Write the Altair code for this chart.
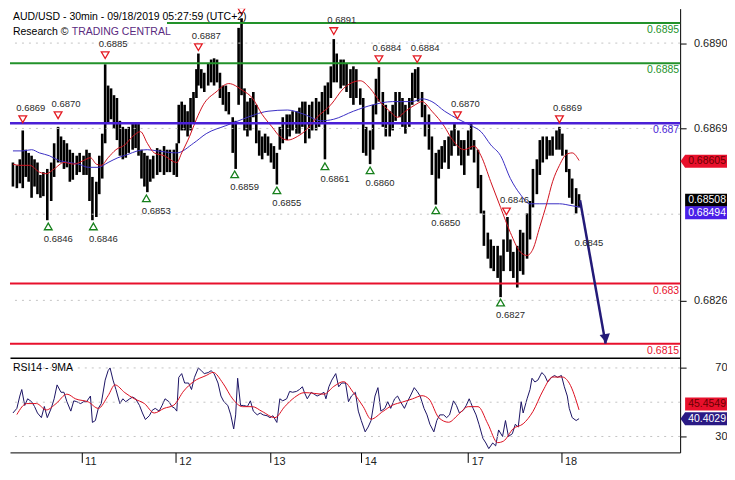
import altair as alt
import pandas as pd

FONT = "Liberation Sans"
TITLE = "AUD/USD - 30min - 09/18/2019 05:27:59 (UTC+2)"
SOURCE_A = "Research ©"
SOURCE_B = "TRADING CENTRAL"
RSI_TITLE = "RSI14 - 9MA"

# time unit: 30-minute bars since the start of the window
DAY_T = [36.5, 84.5, 132.5, 179, 233.5, 281]
DAY_LABELS = ["11", "12", "13", "14", "17", "18"]
X_DOMAIN = [0, 341.5]
PRICE_DOMAIN = [0.68115, 0.68986]
RSI_DOMAIN = [20.7, 76]
PRICE_TICKS = [0.6890, 0.68687, 0.68258]
PRICE_GRID = [0.6890, 0.68687, 0.68473, 0.68258]
RSI_TICKS = [70, 30]
RSI_GRID = [70, 50, 30]

BAR_T = [
    1.5, 3.5, 5, 6.5, 8, 9.5, 11, 12.5, 14, 15.5,
    17, 19, 21, 22.5, 24.5, 26, 27.5, 29, 30.5, 32,
    34, 35.5, 37.5, 39, 40.5, 42, 44, 45.5, 47, 48.5,
    50, 51.5, 53, 54.5, 56, 57.5, 59, 60.5, 62.5, 64,
    65.5, 67, 68.5, 70, 71.5, 73, 75, 76.5, 78.5, 80,
    81.5, 83.5, 85, 86, 87.5, 89, 90.5, 92, 93.5, 95,
    96, 97.5, 99, 101, 102.5, 104, 105.5, 107, 108.5, 110,
    111.5, 113.5, 115, 116.5, 118, 119.5, 121, 122.5, 124, 125.5,
    127, 128.5, 130, 131.5, 133, 134.5, 136, 137.5, 139, 141,
    142.5, 144, 146, 147.5, 149, 150.5, 152.5, 154, 156, 157.5,
    159, 160.5, 162, 163.5, 165, 166.5, 168.5, 170, 171.5, 173.5,
    175, 176.5, 178.5, 180, 181.5, 183.5, 185, 186.5, 188, 190,
    191.5, 193.5, 195, 196.5, 198.5, 200, 201.5, 203.5, 205, 206.5,
    208, 210, 211.5, 213.5, 215, 217, 218.5, 220, 221.5, 223.5,
    225, 226.5, 228.5, 230, 231.5, 233.5, 235, 236.5, 238.5, 240,
    241.5, 243.5, 245, 246.5, 248.5, 250, 251.5, 253.5, 255, 256.5,
    258.5, 260, 261.5, 263.5, 265, 266.5, 268.5, 270, 271.5, 273.5,
    275, 276.5, 278.5, 280, 281.5, 283.5, 285, 286.5, 288.5, 290,
]
BAR_HIGH = [
    .68602, .68595, .68610, .68682, .68634, .68626, .68619, .68610, .68602, .68571,
    .68578, .68586, .68602, .68650, .68691, .68667, .68658, .68650, .68634, .68626,
    .68619, .68626, .68619, .68634, .68626, .68566, .68554, .68619, .68674, .68847,
    .68794, .68787, .68770, .68763, .68706, .68691, .68686, .68691, .68698, .68703,
    .68698, .68634, .68626, .68619, .68610, .68619, .68638, .68634, .68643, .68634,
    .68634, .68634, .68650, .68746, .68754, .68746, .68730, .68763, .68778, .68835,
    .68874, .68835, .68826, .68850, .68859, .68862, .68859, .68826, .68794, .68794,
    .68778, .68715, .68706, .68938, .68962, .68787, .68754, .68763, .68778, .68746,
    .68682, .68667, .68674, .68667, .68650, .68643, .68626, .68691, .68715, .68722,
    .68722, .68730, .68730, .68739, .68754, .68754, .68746, .68754, .68763, .68754,
    .68778, .68794, .68802, .68842, .68910, .68874, .68859, .68859, .68850, .68835,
    .68842, .68835, .68787, .68763, .68691, .68682, .68746, .68811, .68840, .68778,
    .68746, .68730, .68746, .68778, .68778, .68763, .68746, .68763, .68826, .68835,
    .68840, .68778, .68746, .68722, .68667, .68626, .68634, .68643, .68658, .68667,
    .68682, .68698, .68682, .68658, .68658, .68682, .68698, .68658, .68634, .68571,
    .68482, .68427, .68410, .68394, .68394, .68370, .68410, .68466, .68410, .68379,
    .68394, .68434, .68427, .68475, .68506, .68586, .68610, .68658, .68667, .68667,
    .68658, .68667, .68682, .68691, .68674, .68634, .68586, .68562, .68538, .68523,
]
BAR_LOW = [
    .68542, .68538, .68550, .68538, .68566, .68554, .68514, .68542, .68523, .68514,
    .68518, .68458, .68506, .68566, .68602, .68602, .68586, .68590, .68554, .68559,
    .68571, .68578, .68571, .68571, .68506, .68458, .68466, .68523, .68562, .68650,
    .68698, .68710, .68686, .68658, .68619, .68610, .68614, .68626, .68634, .68638,
    .68619, .68562, .68542, .68528, .68554, .68562, .68571, .68578, .68571, .68578,
    .68578, .68571, .68566, .68650, .68682, .68682, .68667, .68682, .68698, .68763,
    .68794, .68787, .68778, .68794, .68802, .68794, .68802, .68763, .68746, .68730,
    .68722, .68626, .68586, .68746, .68770, .68682, .68667, .68682, .68715, .68650,
    .68619, .68610, .68626, .68619, .68602, .68586, .68547, .68634, .68650, .68658,
    .68667, .68682, .68674, .68674, .68691, .68650, .68662, .68682, .68682, .68691,
    .68698, .68610, .68722, .68763, .68802, .68802, .68787, .68794, .68778, .68763,
    .68746, .68763, .68746, .68626, .68619, .68598, .68634, .68722, .68754, .68691,
    .68667, .68667, .68682, .68706, .68715, .68691, .68674, .68691, .68746, .68763,
    .68754, .68715, .68667, .68634, .68571, .68497, .68562, .68586, .68602, .68586,
    .68619, .68643, .68619, .68595, .68571, .68619, .68634, .68602, .68538, .68475,
    .68394, .68362, .68338, .68331, .68314, .68266, .68331, .68379, .68331, .68314,
    .68290, .68331, .68322, .68362, .68410, .68490, .68523, .68571, .68602, .68610,
    .68619, .68619, .68634, .68634, .68619, .68578, .68514, .68499, .68475, .68490,
]

MA_FAST_T = [
    1.5, 5, 10, 15, 18.5, 22.5, 27.5, 32.5, 37.5, 41,
    44, 46.5, 50, 54, 58.5, 62.5, 66.5, 70, 73.5, 78.5,
    85, 87.5, 91.5, 95, 98.5, 105, 111.5, 118.5, 123.5, 128.5,
    133.5, 137.5, 141.5, 146.5, 150, 156.5, 163.5, 170, 178.5, 183.5,
    188.5, 193.5, 197.5, 201.5, 206.5, 210, 215, 221.5, 225, 231.5,
    236.5, 240, 245, 250, 255, 260, 263.5, 266.5, 270, 273.5,
    276.5, 280, 283.5, 286.5, 290,
]
MA_FAST_P = [
    .68598, .68595, .68595, .68578, .68574, .68586, .68602, .68598, .68607, .68614,
    .68598, .68595, .68614, .68634, .68646, .68667, .68679, .68650, .68626, .68619,
    .68602, .68626, .68667, .68710, .68746, .68778, .68799, .68782, .68763, .68722,
    .68691, .68667, .68658, .68667, .68679, .68715, .68746, .68787, .68806, .68787,
    .68754, .68730, .68715, .68730, .68746, .68754, .68730, .68691, .68662, .68634,
    .68643, .68619, .68554, .68490, .68427, .68379, .68370, .68386, .68442, .68499,
    .68554, .68595, .68622, .68626, .68607,
]
MA_SLOW_T = [
    1.5, 6.5, 11, 15, 20, 25, 30, 35, 40, 45,
    50, 55, 60, 65, 70, 75, 85, 93.5, 100, 110,
    118.5, 125, 131.5, 141.5, 150, 158.5, 165, 175, 185, 195,
    205, 210, 215, 221.5, 228.5, 235, 240, 245, 250, 255,
    260, 265, 270, 280, 286.5, 291.5,
]
MA_SLOW_P = [
    .68631, .68631, .68634, .68626, .68619, .68607, .68602, .68598, .68590, .68590,
    .68602, .68614, .68622, .68631, .68634, .68631, .68626, .68650, .68674, .68694,
    .68710, .68722, .68730, .68733, .68722, .68706, .68710, .68730, .68746, .68754,
    .68754, .68761, .68754, .68730, .68710, .68694, .68679, .68646, .68619, .68562,
    .68523, .68499, .68499, .68499, .68494, .68490,
]

RSI_T = [
    1.5, 3.5, 5, 6, 7.5, 9, 11, 12.5, 14, 16,
    17.5, 19, 21, 22.5, 24, 26, 27.5, 29, 31, 32.5,
    34, 36, 37.5, 39, 41, 42, 43.5, 45, 46.5, 48.5,
    50, 51, 52.5, 54, 56, 57.5, 59, 61, 62.5, 64,
    66, 67.5, 69, 71, 72.5, 74, 76, 77.5, 79, 81,
    82.5, 84, 85, 86, 87.5, 89, 91, 92.5, 94, 96,
    97.5, 99, 101, 102.5, 104, 106, 107.5, 109, 111, 112.5,
    114, 115, 116, 117.5, 119, 121, 122.5, 124, 126, 127.5,
    129, 131, 132.5, 134, 136, 137.5, 139, 141, 142.5, 144,
    146, 147.5, 149, 150, 151.5, 153.5, 155, 156.5, 158.5, 160,
    161, 162.5, 164, 166, 167.5, 169, 171, 172.5, 174, 176,
    177.5, 179, 181, 182.5, 184, 186, 187.5, 189, 191, 192.5,
    194, 196, 197.5, 199, 201, 202.5, 204, 206, 207.5, 209,
    211, 212.5, 214, 216, 217.5, 219, 221, 222.5, 224, 226,
    227.5, 229, 231, 232.5, 234, 236, 237.5, 239, 241, 242.5,
    244, 246, 247.5, 249, 251, 252.5, 254, 256, 257.5, 259,
    260.5, 261.5, 263.5, 265, 266, 267.5, 269, 271, 272.5, 274,
    276, 277.5, 279, 281, 282.5, 284, 285, 286.5, 288.5, 290,
]
RSI_V = [
    43.7, 46.4, 53.6, 57.4, 48.1, 52, 50.3, 47.5, 43.7, 41,
    47.5, 41, 46.4, 52, 60.1, 55.8, 55.8, 50.3, 44.8, 50.8,
    50.3, 49.2, 50.3, 50.3, 53.6, 38.2, 39.3, 46.4, 49.2, 62.9,
    68.4, 70, 62.9, 57.4, 49.2, 52, 50.3, 52, 53, 52,
    48.1, 43.7, 39.9, 42.1, 45.3, 46.4, 44.8, 48.1, 52, 50.3,
    47.5, 46.4, 44.8, 64.5, 66.7, 61.2, 61.2, 57.4, 64.5, 70,
    68.4, 66.7, 67.3, 68.4, 66.7, 61.2, 53.6, 50.3, 48.1, 42.6,
    34.4, 42.6, 64, 48.1, 48.1, 47.5, 50.8, 44.8, 42.6, 43.7,
    42.6, 42.1, 41, 42.1, 38.2, 52, 50.8, 52, 56.3, 55.8,
    56.3, 57.4, 59, 55.8, 52, 55.8, 54.7, 53.6, 54.7, 55.8,
    52, 59, 62.9, 66.7, 59, 61.2, 61.2, 50.3, 53.6, 55.8,
    44.8, 39.3, 32.7, 35.5, 39.3, 53.6, 58.5, 44.8, 46.4, 50.3,
    46.4, 52, 53.6, 50.3, 46.4, 50.3, 53.6, 58.5, 56.3, 53.6,
    46.4, 42.6, 37.1, 32.7, 39.3, 42.6, 42.6, 41, 42.6, 50.8,
    48.1, 43.7, 45.3, 48.1, 52, 46.4, 42.6, 37.1, 28.9, 26.2,
    22.9, 26.2, 24.5, 33.8, 30, 39.3, 30, 31.6, 37.1, 35.5,
    50.3, 43.7, 52, 57.4, 64, 61.8, 62.9, 67.3, 65.6, 61.8,
    64.5, 65.6, 64.5, 65.6, 59, 53.6, 46.4, 41, 39.3, 40.4,
]
RSI_MA_T = [
    3.5, 8.5, 13.5, 18.5, 23.5, 29, 33.5, 40, 45, 50,
    53.5, 58.5, 63.5, 68.5, 73.5, 78.5, 83.5, 88.5, 93.5, 100,
    103.5, 108.5, 113.5, 118.5, 123.5, 128.5, 135, 140, 145, 150,
    160, 165, 170, 175, 180, 184, 190, 195, 200, 205,
    210, 213.5, 218.5, 223.5, 228.5, 233.5, 238.5, 243.5, 248.5, 251.5,
    256.5, 261.5, 266.5, 271.5, 276.5, 281.5, 285, 290,
]
RSI_MA_V = [
    42.8, 49.2, 49.2, 45.5, 49.2, 54.7, 51.9, 50.1, 46.4, 53.8,
    60.1, 55.6, 51.9, 49.2, 43.7, 46.4, 48.3, 56.5, 62, 65.6,
    67.4, 61.1, 51.9, 47.4, 47.4, 44.6, 41, 47.4, 52.8, 55.6,
    54.7, 59.2, 62, 55.6, 47.4, 40.1, 44.6, 48.3, 50.1, 51.9,
    53.8, 51.9, 41, 38.3, 42.8, 47.4, 47.4, 37.4, 26.4, 27.3,
    34.6, 37.4, 44.6, 56.5, 64.7, 64.7, 61.1, 45.5,
]

LEVEL_P = [0.6895, 0.6885, 0.687, 0.683, 0.6815]
LEVEL_TEXT = ["0.6895", "0.6885", "0.687", "0.683", "0.6815"]
LEVEL_KIND = ["resistance", "resistance", "pivot", "support", "support"]
LEVEL_START_T = [80, 0, 0, 0, 0]

SWING_HIGH_T = [6.5, 24.5, 48.5, 96, 118, 165, 188, 207.5, 228, 253, 280]
SWING_HIGH_P = [0.6869, 0.6870, 0.6885, 0.6887, 0.6896, 0.6891, 0.6884, 0.6884, 0.6870, 0.6846, 0.6869]
SWING_LOW_T = [19.5, 42.5, 69.5, 114.5, 136, 160.5, 183.5, 217, 250]
SWING_LOW_P = [0.6846, 0.6846, 0.6853, 0.6859, 0.6855, 0.6861, 0.6860, 0.6850, 0.6827]

ARROW_T = [290.5, 303.5]
ARROW_P = [0.68508, 0.6815]
NOTE_T = [295]
NOTE_P = [0.6840]
NOTE_TEXT = ["0.6845"]

LAST_MA_FAST = 0.68605
LAST_CLOSE = 0.68508
LAST_MA_SLOW = 0.68494
LAST_RSI_MA = 45.4549
LAST_RSI = 40.4029

# ---------------------------------------------------------------- layout
W, H1, H2 = 672, 350, 95
GREEN, PURPLE, RED = "#22922a", "#4a1fd6", "#e8102c"
NAVY = "#231a78"

xs = alt.Scale(domain=X_DOMAIN, nice=False, zero=False)
ys = alt.Scale(domain=PRICE_DOMAIN, nice=False, zero=False)
rs = alt.Scale(domain=RSI_DOMAIN, nice=False, zero=False)

one = pd.DataFrame({"k": [0]})


def text_at(txt, x, y, color="black", size=10.5):
    return alt.Chart(one).mark_text(
        align="left", baseline="top", font=FONT, fontSize=size, color=color
    ).encode(x=alt.value(x), y=alt.value(y), text=alt.value(txt))


BOX_RECT = "M-1,-0.31H1V0.31H-1Z"
BOX_ARROW = "M-1.22,0L-1,-0.31H1V0.31H-1Z"


def value_box(val, scale, fmt, fill, text_color, shape, shift=0):
    d = alt.Chart(pd.DataFrame({"v": [val]}))
    yenc = alt.Y("v:Q", scale=scale)
    box = d.mark_point(
        shape=shape, filled=True, color=fill, size=1764, opacity=1, yOffset=shift
    ).encode(x=alt.value(W + 26), y=yenc)
    txt = d.mark_text(
        font=FONT, fontSize=10.5, color=text_color, align="center",
        baseline="middle", dy=shift
    ).encode(x=alt.value(W + 27), y=yenc, text=alt.Text("v:Q", format=fmt))
    return [box, txt]


# secondary layers carry no axis settings: the first layer of each panel owns the axes
X = lambda f="t": alt.X(f"{f}:Q", scale=xs)
YP = lambda f="p": alt.Y(f"{f}:Q", scale=ys)
YR = lambda f="v": alt.Y(f"{f}:Q", scale=rs)

# ---------------------------------------------------------------- price panel
bars_df = pd.DataFrame({"t": BAR_T, "high": BAR_HIGH, "low": BAR_LOW})
fast_df = pd.DataFrame({"t": MA_FAST_T, "p": MA_FAST_P})
slow_df = pd.DataFrame({"t": MA_SLOW_T, "p": MA_SLOW_P})
lvl_df = pd.DataFrame({"p": LEVEL_P, "txt": LEVEL_TEXT, "kind": LEVEL_KIND, "start": LEVEL_START_T})
hi_df = pd.DataFrame({"t": SWING_HIGH_T, "p": SWING_HIGH_P})
lo_df = pd.DataFrame({"t": SWING_LOW_T, "p": SWING_LOW_P})
arrow_df = pd.DataFrame({"t": ARROW_T, "p": ARROW_P})
head_df = pd.DataFrame({"t": ARROW_T[-1:], "p": ARROW_P[-1:]})
note_df = pd.DataFrame({"t": NOTE_T, "p": NOTE_P, "txt": NOTE_TEXT})
grid_df = pd.DataFrame({"p": PRICE_GRID})

kind_color = alt.Color(
    "kind:N",
    scale=alt.Scale(domain=["resistance", "pivot", "support"], range=[GREEN, PURPLE, RED]),
    legend=None,
)

price_axis = alt.Axis(
    orient="right", values=PRICE_TICKS, format=".4f", labelAlign="right",
    labelPadding=41, tickSize=6, tickColor="black", domainColor="black",
    domain=True, ticks=True, labels=True,
    grid=False, title=None, labelFontSize=11, labelColor="#222", labelFont=FONT,
)
main_x_axis = alt.Axis(labels=False, ticks=False, grid=False, title=None, domain=True,
                       domainColor="black", domainWidth=1.5)

bars = alt.Chart(bars_df).mark_rule(color="black", strokeWidth=2.6).encode(
    x=alt.X("t:Q", scale=xs, axis=main_x_axis),
    y=alt.Y("high:Q", scale=ys, axis=price_axis),
    y2="low:Q",
)
grid = alt.Chart(grid_df).mark_rule(color="#c4c4c4", strokeDash=[2, 5]).encode(y=YP())
slow = alt.Chart(slow_df).mark_line(color="#3b2fc4", strokeWidth=1, interpolate="monotone").encode(
    x=X(), y=YP()
)
fast = alt.Chart(fast_df).mark_line(color="#d0121e", strokeWidth=1, interpolate="monotone").encode(
    x=X(), y=YP()
)
levels = alt.Chart(lvl_df).mark_rule().encode(
    x=X("start"),
    x2=alt.value(W),
    y=YP(),
    color=kind_color,
    strokeWidth=alt.condition("datum.kind == 'pivot'", alt.value(2.5), alt.value(2)),
)
level_txt = alt.Chart(lvl_df).mark_text(
    align="right", baseline="top", dy=2, font=FONT, fontSize=10.5
).encode(x=alt.value(W - 1), y=YP(), text="txt:N", color=kind_color)

hi_tri = alt.Chart(hi_df).mark_point(
    shape="triangle-down", filled=False, color="#e41c24", size=60, strokeWidth=1.3,
    yOffset=-8, opacity=1, clip=True
).encode(x=X(), y=YP())
hi_txt = alt.Chart(hi_df).mark_text(
    font=FONT, fontSize=9.5, color="#2a2a2a", dx=8, dy=-19, clip=True
).encode(x=X(), y=YP(), text=alt.Text("p:Q", format=".4f"))
lo_tri = alt.Chart(lo_df).mark_point(
    shape="triangle-up", filled=False, color="#17801c", size=60, strokeWidth=1.3,
    yOffset=7, opacity=1, clip=True
).encode(x=X(), y=YP())
lo_txt = alt.Chart(lo_df).mark_text(
    font=FONT, fontSize=9.5, color="#2a2a2a", dx=10, dy=20, clip=True
).encode(x=X(), y=YP(), text=alt.Text("p:Q", format=".4f"))

arrow = alt.Chart(arrow_df).mark_line(color=NAVY, strokeWidth=2.5).encode(x=X(), y=YP())
head = alt.Chart(head_df).mark_point(
    shape="triangle-down", filled=True, color=NAVY, size=110, angle=350, yOffset=-5, opacity=1
).encode(x=X(), y=YP())
note = alt.Chart(note_df).mark_text(font=FONT, fontSize=9.5, color="#2a2a2a").encode(
    x=X(), y=YP(), text="txt:N"
)

price_panel = alt.layer(
    bars, grid, slow, fast, levels, level_txt, hi_tri, hi_txt, lo_tri, lo_txt,
    arrow, head, note,
    text_at(TITLE, 3, 3),
    text_at(SOURCE_A, 3, 18),
    text_at(SOURCE_B, 62, 18, color="#5a2a80"),
    *value_box(LAST_MA_FAST, ys, ".5f", "#e8102c", "#6a0000", BOX_ARROW),
    *value_box(LAST_CLOSE, ys, ".5f", "black", "white", BOX_RECT),
    *value_box(LAST_MA_SLOW, ys, ".5f", "#4a1fe8", "white", BOX_RECT, shift=7),
).properties(width=W, height=H1)

# ---------------------------------------------------------------- RSI panel
rsi_df = pd.DataFrame({"t": RSI_T, "v": RSI_V})
rsi_ma_df = pd.DataFrame({"t": RSI_MA_T, "v": RSI_MA_V})
rsi_grid_df = pd.DataFrame({"v": RSI_GRID})

day_expr = "".join(f"datum.value == {t} ? '{l}' : " for t, l in zip(DAY_T, DAY_LABELS)) + "''"

rsi_axis = alt.Axis(
    orient="right", values=RSI_TICKS, labelAlign="right", labelPadding=41,
    tickSize=6, tickColor="black", domainColor="black", domain=True, ticks=True,
    labels=True, grid=False, title=None,
    labelFontSize=11, labelColor="#222", labelFont=FONT,
)
time_axis = alt.Axis(
    values=DAY_T, labelExpr=day_expr, tickSize=10, tickColor="black", domain=True,
    domainColor="black", labelAlign="left", labelBaseline="top", labelPadding=-7,
    labelOffset=3, grid=False, title=None, labelFontSize=11, labelColor="#222",
    labelFont=FONT, labelOverlap=False, labels=True, ticks=True,
)

rsi_line = alt.Chart(rsi_df).mark_line(color="#1c1464", strokeWidth=1).encode(
    x=alt.X("t:Q", scale=xs, axis=time_axis), y=alt.Y("v:Q", scale=rs, axis=rsi_axis)
)
rsi_grid = alt.Chart(rsi_grid_df).mark_rule(color="#c4c4c4", strokeDash=[2, 5]).encode(y=YR())
rsi_ma = alt.Chart(rsi_ma_df).mark_line(color="#dc1020", strokeWidth=1, interpolate="monotone").encode(
    x=X(), y=YR()
)

rsi_panel = alt.layer(
    rsi_line, rsi_grid, rsi_ma,
    text_at(RSI_TITLE, 3, 5),
    *value_box(LAST_RSI_MA, rs, ".4f", "#e8102c", "#6a0000", BOX_RECT, shift=-6),
    *value_box(LAST_RSI, rs, ".4f", "#2a1a84", "white", BOX_ARROW),
).properties(width=W, height=H2)

chart = (
    alt.vconcat(price_panel, rsi_panel, spacing=0)
    .resolve_scale(x="independent", y="independent")
    .properties(padding=0)
    .configure(background="white")
    .configure_view(strokeWidth=0)
)

chart.save("out.html", embed_options={"renderer": "svg", "actions": False})
